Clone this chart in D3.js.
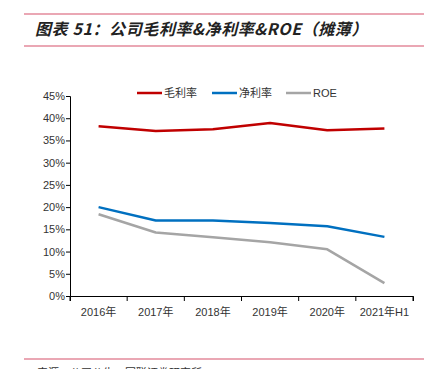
<!DOCTYPE html>
<html lang="zh">
<head>
<meta charset="UTF-8">
<title>公司毛利率&净利率&ROE</title>
<style>
  body { margin: 0; background: #fff; }
  svg { display: block; font-family: Arial, "Liberation Sans", "Noto Sans CJK SC", sans-serif; }
</style>
</head>
<body>
<svg id="chart" width="432" height="369"></svg>
<script src="https://cdn.jsdelivr.net/npm/d3@7"></script>
<script>
// data
const years = ["2016年", "2017年", "2018年", "2019年", "2020年", "2021年H1"];
const grossMargin = [38.2, 37.1, 37.5, 38.9, 37.3, 37.7];
const netMargin = [20.0, 17.0, 17.0, 16.4, 15.7, 13.3];
const roe = [18.4, 14.3, 13.2, 12.1, 10.5, 2.9];
const yTicks = [0, 5, 10, 15, 20, 25, 30, 35, 40, 45];

const series = [
  { name: "毛利率", values: grossMargin, color: "#C00000" },
  { name: "净利率", values: netMargin, color: "#0070C0" },
  { name: "ROE", values: roe, color: "#A5A5A5" }
];

const svg = d3.select("#chart");

// header
svg.append("line").attr("x1", 24).attr("x2", 424).attr("y1", 14).attr("y2", 14)
  .attr("stroke", "#D6506A").attr("stroke-width", 1.2);
svg.append("line").attr("x1", 24).attr("x2", 424).attr("y1", 46).attr("y2", 46)
  .attr("stroke", "#D6506A").attr("stroke-width", 1.2);
svg.append("text").attr("x", 35).attr("y", 35)
  .attr("font-size", 16).attr("font-weight", "bold").attr("font-style", "italic")
  .attr("letter-spacing", 0.6)
  .attr("fill", "#222").attr("font-family", "'Noto Sans CJK SC', sans-serif")
  .text("图表 51：公司毛利率&净利率&ROE（摊薄）");

// footer (cut off by the bottom edge, as in the reference)
svg.append("line").attr("x1", 24).attr("x2", 424).attr("y1", 359).attr("y2", 359)
  .attr("stroke", "#D6506A").attr("stroke-width", 1.2);
svg.append("text").attr("x", 37).attr("y", 377)
  .attr("font-size", 11).attr("fill", "#333")
  .attr("font-family", "'Noto Sans CJK SC', sans-serif")
  .text("来源：公司公告，国联证券研究所");

// plot
const x = d3.scaleBand().domain(years).range([70, 413]);
const y = d3.scaleLinear().domain([0, 45]).range([296, 96]);

const yAxis = svg.append("g").attr("transform", "translate(70,0)")
  .call(d3.axisLeft(y).tickValues(yTicks).tickFormat(d => d + "%").tickSize(4));
const xAxis = svg.append("g").attr("transform", "translate(0,296)")
  .call(d3.axisBottom(x).tickSize(5).tickPadding(7));

[yAxis, xAxis].forEach(g => {
  g.select(".domain").attr("stroke", "#000");
  g.selectAll(".tick line").attr("stroke", "#000");
  g.selectAll("text").attr("font-size", 11).attr("fill", "#333")
    .attr("font-family", "Arial, 'Noto Sans CJK SC', sans-serif");
});
// band ticks at category boundaries
xAxis.selectAll(".tick line").remove();
xAxis.selectAll(".bound").data(years.concat([null])).enter().append("line")
  .attr("x1", (d, i) => i < years.length ? x(d) : x.range()[1])
  .attr("x2", (d, i) => i < years.length ? x(d) : x.range()[1])
  .attr("y1", 0).attr("y2", 5).attr("stroke", "#000");
yAxis.selectAll(".tick text").attr("x", -5);

const line = d3.line()
  .x((d, i) => x(years[i]) + x.bandwidth() / 2)
  .y(d => y(d));

series.forEach(s => {
  svg.append("path").datum(s.values)
    .attr("fill", "none").attr("stroke", s.color).attr("stroke-width", 2.5)
    .attr("stroke-linejoin", "round")
    .attr("d", line);
});

// legend
const legendX = [137, 212, 286];
series.forEach((s, i) => {
  const g = svg.append("g").attr("transform", `translate(${legendX[i]},93)`);
  g.append("line").attr("x1", 0).attr("x2", 25).attr("y1", 0).attr("y2", 0)
    .attr("stroke", s.color).attr("stroke-width", 2.5);
  g.append("text").attr("x", 27).attr("y", 4).attr("font-size", 11).attr("fill", "#333")
    .attr("font-family", "Arial, 'Noto Sans CJK SC', sans-serif")
    .text(s.name);
});
</script>
</body>
</html>
